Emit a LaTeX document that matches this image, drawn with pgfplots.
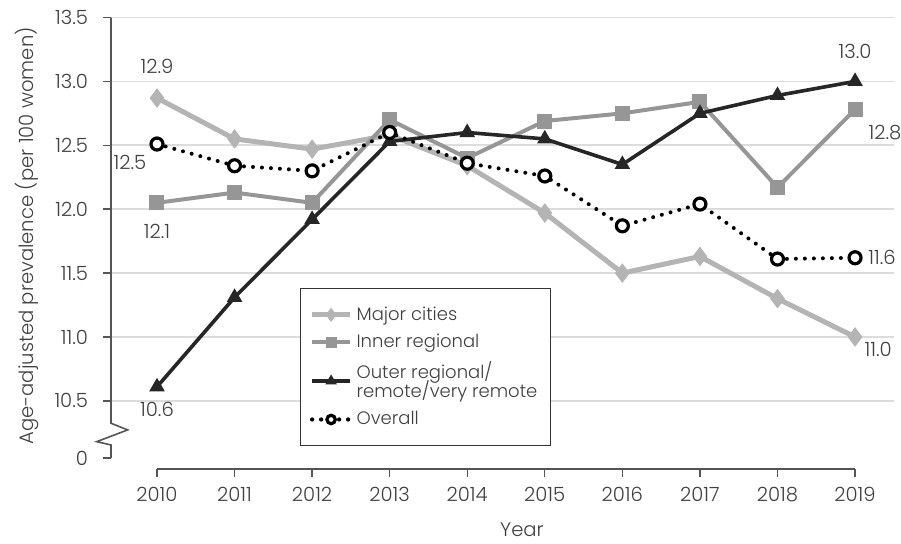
\documentclass[border=0pt]{standalone}
\usepackage{fontspec}
\setmainfont{Poppins}[UprightFont={* Light}]
\usepackage{pgfplots}
\pgfplotsset{compat=1.18}
\definecolor{major}{HTML}{B4B4B4}
\definecolor{inner}{HTML}{969696}
\definecolor{outer}{HTML}{262626}
\definecolor{txt}{HTML}{404040}
\definecolor{gridc}{HTML}{DCDCDC}
\definecolor{axc}{HTML}{555555}
\newcommand{\fs}{\fontsize{9.8}{12}\selectfont}
\begin{document}
\begin{tikzpicture}
\begin{axis}[
  at={(0,0)}, anchor=south west,
  scale only axis, width=391.5pt, height=225.75pt,
  xmin=2009.407, xmax=2019.502, ymin=9.967, ymax=13.5,
  axis lines*=left,
  axis line style={draw=none},
  xtick={2010,...,2019},
  xticklabel style={/pgf/number format/1000 sep={}, yshift=-1.5pt},
  ytick={10.5,11,11.5,12,12.5,13,13.5},
  yticklabel style={/pgf/number format/fixed, /pgf/number format/fixed zerofill, /pgf/number format/precision=1, xshift=-4pt},
  extra y ticks={10.053}, extra y tick labels={0},
  extra y tick style={grid=none},
  ymajorgrids, grid style={gridc, line width=0.8pt},
  tick align=outside, major tick length=4pt,
  tick style={axc, line width=0.7pt},
  /pgf/number format/assume math mode=true,
  ticklabel style={font=\fs, text=txt},
  clip=false,
  legend cell align=left,
  legend image code/.code={\draw[#1] (0pt,0pt) -- (19pt,0pt); \draw[#1, mark repeat=2, mark phase=2, every mark/.append style={scale=0.7}] plot coordinates {(0pt,0pt) (9.5pt,0pt) (19pt,0pt)};},
  legend style={at={(rel axis cs:0.2414,0.4009)}, anchor=north west,
    draw=black!80, line width=0.6pt, text=txt,
    inner xsep=4.5pt, inner ysep=7pt, row sep=1.5pt,
    cells={align=left, font=\fontsize{9}{9}\selectfont}},
]
\addplot[major, line width=2.5pt, mark=diamond*, mark size=4.5pt, mark options={line width=0.5pt}]
coordinates {(2010,12.87) (2011,12.55) (2012,12.47) (2013,12.58) (2014,12.34) (2015,11.97) (2016,11.50) (2017,11.63) (2018,11.30) (2019,11.00)};
\addlegendentry{Major cities}
\addplot[inner, line width=2pt, mark=square*, mark size=3.5pt, mark options={line width=0.5pt}]
coordinates {(2010,12.05) (2011,12.13) (2012,12.05) (2013,12.70) (2014,12.40) (2015,12.69) (2016,12.75) (2017,12.84) (2018,12.17) (2019,12.78)};
\addlegendentry{Inner regional}
\addplot[outer, line width=1.8pt, mark=triangle*, mark size=4pt, mark options={line width=0.5pt}]
coordinates {(2010,10.61) (2011,11.31) (2012,11.92) (2013,12.53) (2014,12.60) (2015,12.55) (2016,12.35) (2017,12.75) (2018,12.89) (2019,13.00)};
\addlegendentry{Outer regional/\\[-2.5pt]remote/very remote}
\addplot[black, line width=2pt, line cap=round, dash pattern=on 0pt off 4.5pt, mark=*, mark size=3pt, mark options={solid, fill=white, draw=black, line width=1.6pt}]
coordinates {(2010,12.51) (2011,12.34) (2012,12.30) (2013,12.60) (2014,12.36) (2015,12.26) (2016,11.87) (2017,12.04) (2018,11.61) (2019,11.62)};
\addlegendentry{Overall}
\draw[axc, line width=0.8pt] (axis cs:2010,9.967) -- (axis cs:2019,9.967);
\draw[axc, line width=0.8pt] (axis cs:2009.407,13.5) -- (axis cs:2009.407,10.325) -- (axis cs:2009.622,10.273) -- (axis cs:2009.223,10.181) -- (axis cs:2009.407,10.155) -- (axis cs:2009.407,10.053);
\begin{scope}[every node/.style={font=\fs, text=txt}]
\node at (axis cs:2010,13.118) {12.9};
\node at (axis cs:2009.652,12.365) {12.5};
\node at (axis cs:2010,11.824) {12.1};
\node at (axis cs:2010,10.437) {10.6};
\node at (axis cs:2019,13.235) {13.0};
\node at (axis cs:2019.387,12.60) {12.8};
\node at (axis cs:2019.348,11.621) {11.6};
\node at (axis cs:2019.297,10.90) {11.0};
\end{scope}
\end{axis}
\node[rotate=90, font=\fs, text=txt] at (-42pt,116.5pt) {Age-adjusted prevalence (per 100 women)};
\node[font=\fs, text=txt] at (205.5pt,-30.5pt) {Year};
\pgfresetboundingbox
\path (-55.5pt,-37pt) rectangle (395pt,234.5pt);
\end{tikzpicture}
\end{document}
